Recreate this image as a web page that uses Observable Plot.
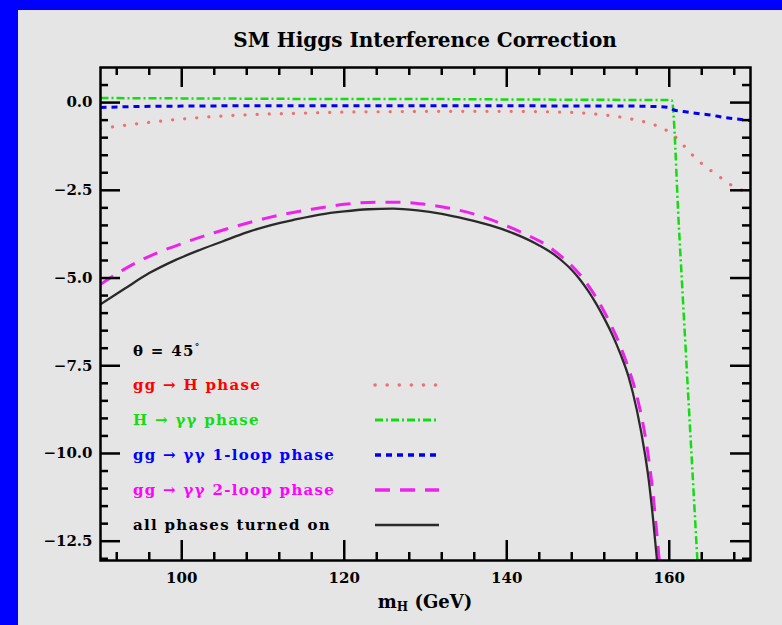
<!DOCTYPE html>
<html>
<head>
<meta charset="utf-8">
<script src="https://cdn.jsdelivr.net/npm/d3@7"></script>
<script src="https://cdn.jsdelivr.net/npm/@observablehq/plot@0.6"></script>
<style>
  html, body { margin: 0; padding: 0; background: #0000ff; }
  body { width: 782px; height: 625px; overflow: hidden; position: relative; }
  #panel { position: absolute; left: 18px; top: 10px; width: 764px; height: 615px; background: #e5e5e5;
           font-family: "DejaVu Serif", serif; font-weight: bold; color: #000; }
  #panel > svg { position: absolute; left: 0; top: 0; }
  .title { position: absolute; left: 82px; width: 650px; top: 19px; text-align: center; font-size: 20px; line-height: 22px; }
  .xlabel { position: absolute; left: 82px; width: 650px; top: 581px; text-align: center; font-size: 18px; line-height: 22px; }
  .xlabel sub { font-size: 12px; vertical-align: -3px; }
  #legend { position: absolute; left: 115px; top: 324px; }
  #legend .row { position: absolute; left: 0; height: 24px; line-height: 24px; font-size: 15px; letter-spacing: 1.3px; white-space: nowrap; }
  #legend .row svg { position: absolute; left: 240px; top: 0; }
</style>
</head>
<body>
<div id="panel">
  <div class="title">SM Higgs Interference Correction</div>
  <div class="xlabel">m<sub>H</sub> (GeV)</div>
  <div id="legend"></div>
</div>
<script>
// Axis ticks
const xMajor = [100, 120, 140, 160];
const xMinor = [92, 96, 104, 108, 112, 116, 124, 128, 132, 136, 144, 148, 152, 156, 164, 168];
const yMajor = [0, -2.5, -5, -7.5, -10, -12.5];
const yMinor = [0.5, -0.5, -1, -1.5, -2, -3, -3.5, -4, -4.5, -5.5, -6, -6.5, -7, -8, -8.5, -9, -9.5,
                -10.5, -11, -11.5, -12, -13];

// gg -> H phase
const redX = [90, 94, 99, 102, 106, 110, 115, 120, 125, 130, 135, 140, 146.6, 150, 153, 155.6, 158, 159.8,
              161, 162, 163.1, 164.2, 165.5, 166.7, 167.9, 169.2, 170];
const redY = [-0.74, -0.62, -0.49, -0.43, -0.37, -0.33, -0.30, -0.27, -0.26, -0.25, -0.25, -0.25, -0.27, -0.31,
              -0.38, -0.48, -0.62, -0.81, -1.03, -1.28, -1.55, -1.78, -2.00, -2.20, -2.39, -2.52, -2.58];

// H -> gamma gamma phase
const greenX = [90, 100, 110, 120, 130, 140, 150, 160.3, 161.2, 162.3, 163.5];
const greenY = [0.13, 0.12, 0.11, 0.10, 0.10, 0.09, 0.08, 0.07, -3.6, -8.2, -13.2];

// gg -> gamma gamma 1-loop phase
const blueX = [90, 95, 100, 110, 120, 130, 140, 150, 155, 158, 160, 160.6, 162.2, 163.8, 165.2, 166.7, 168, 170];
const blueY = [-0.14, -0.11, -0.10, -0.09, -0.09, -0.09, -0.09, -0.10, -0.10, -0.11, -0.14, -0.21, -0.27,
               -0.32, -0.36, -0.42, -0.46, -0.51];

// gg -> gamma gamma 2-loop phase
const magX = [90, 93, 96, 100, 104, 108, 112, 116, 120, 124, 127, 130, 133, 136, 139, 142, 145, 146, 147,
              148, 149, 150, 151, 152, 153, 154, 155, 156, 157, 157.5, 158, 158.5, 158.9];
const magY = [-5.18, -4.74, -4.38, -4.02, -3.71, -3.44, -3.21, -3.04, -2.90, -2.84, -2.84, -2.90, -3.01,
              -3.18, -3.42, -3.72, -4.08, -4.25, -4.44, -4.65, -4.90, -5.20, -5.55, -5.96, -6.42, -6.95,
              -7.58, -8.35, -9.45, -10.2, -11.15, -12.35, -13.4];

// all phases turned on
const blackX = [90, 93, 96, 99, 102, 105, 108, 111, 114, 117, 120, 123, 126, 129, 132, 135, 138, 141, 144,
                146, 147, 148, 149, 150, 151, 152, 153, 154, 155, 156, 157, 157.5, 158, 158.6];
const blackY = [-5.75, -5.30, -4.86, -4.51, -4.22, -3.96, -3.70, -3.49, -3.33, -3.19, -3.10, -3.04, -3.02,
                -3.07, -3.17, -3.32, -3.50, -3.74, -4.07, -4.36, -4.55, -4.77, -5.04, -5.36, -5.73, -6.15,
                -6.62, -7.17, -7.82, -8.75, -10.0, -10.8, -11.85, -13.3];

const series = [
  {label: "gg \u2192 H phase", color: "#ff0000", stroke: "#f07070", width: 3.2, dash: "0.1,12", cap: "round", x: redX, y: redY},
  {label: "H \u2192 \u03b3\u03b3 phase", color: "#11dd11", stroke: "#11dd11", width: 2.5, dash: "8,3,2,3", cap: "butt", x: greenX, y: greenY},
  {label: "gg \u2192 \u03b3\u03b3 1-loop phase", color: "#0000ff", stroke: "#0000ee", width: 3, dash: "6,5", cap: "butt", x: blueX, y: blueY},
  {label: "gg \u2192 \u03b3\u03b3 2-loop phase", color: "#ff00ff", stroke: "#ee22ee", width: 3, dash: "15,10", cap: "butt", x: magX, y: magY},
  {label: "all phases turned on", color: "#000000", stroke: "#2a2a2a", width: 2.3, dash: null, cap: "butt", x: blackX, y: blackY}
];

const W = 764, H = 615;
const mt = 57, mb = 65, ml = 82, mr = 32;
const innerW = W - ml - mr, innerH = H - mt - mb;
const major = 20, minor = 8;
const font = "DejaVu Serif, serif";
const fmt = d => (d < 0 ? "\u2212" : "") + Math.abs(d).toFixed(1);

const tickStyle = {stroke: "#000", strokeWidth: 2.5};

const plot = Plot.plot({
  width: W, height: H,
  marginTop: mt, marginBottom: mb, marginLeft: ml, marginRight: mr,
  style: {background: "transparent", fontFamily: font, fontWeight: "bold", color: "#000"},
  x: {domain: [90, 170], label: null},
  y: {domain: [-13.05, 1.0], label: null},
  marks: [
    ...series.map(s => Plot.lineY(s.y, {
      x: s.x, stroke: s.stroke, strokeWidth: s.width, strokeDasharray: s.dash, strokeLinecap: s.cap,
      curve: "monotone-x", clip: true
    })),
    // inward ticks on all four sides
    Plot.tickX(xMajor, {x: d => d, insetTop: innerH - major, ...tickStyle}),
    Plot.tickX(xMajor, {x: d => d, insetBottom: innerH - major, ...tickStyle}),
    Plot.tickX(xMinor, {x: d => d, insetTop: innerH - minor, ...tickStyle}),
    Plot.tickX(xMinor, {x: d => d, insetBottom: innerH - minor, ...tickStyle}),
    Plot.tickY(yMajor, {y: d => d, insetRight: innerW - major, ...tickStyle}),
    Plot.tickY(yMajor, {y: d => d, insetLeft: innerW - major, ...tickStyle}),
    Plot.tickY(yMinor, {y: d => d, insetRight: innerW - minor, ...tickStyle}),
    Plot.tickY(yMinor, {y: d => d, insetLeft: innerW - minor, ...tickStyle}),
    Plot.frame({stroke: "#000", strokeWidth: 2.5}),
    Plot.axisX({ticks: xMajor, tickSize: 0, tickPadding: 12, tickFormat: d => String(d),
                fontSize: 15, fontWeight: "bold", fontFamily: font, label: null}),
    Plot.axisY({ticks: yMajor, tickSize: 0, tickPadding: 8, tickFormat: fmt,
                fontSize: 15, fontWeight: "bold", fontFamily: font, label: null})
  ]
});
document.getElementById("panel").prepend(plot);

// legend block
const legend = d3.select("#legend");
legend.append("div").attr("class", "row").style("top", "1px")
  .html("\u03b8 = 45<sup style='font-size:9px'>\u00b0</sup>");
series.forEach((s, i) => {
  const row = legend.append("div").attr("class", "row")
    .style("top", `${39 + i * 35}px`).style("color", s.color).text(s.label);
  const svg = row.append("svg").attr("width", 70).attr("height", 24);
  svg.append("line").attr("x1", 2).attr("x2", 66).attr("y1", 12).attr("y2", 12)
    .attr("stroke", s.stroke).attr("stroke-width", s.width + 0.3)
    .attr("stroke-linecap", s.cap)
    .attr("stroke-dasharray", s.dash);
});
</script>
</body>
</html>
